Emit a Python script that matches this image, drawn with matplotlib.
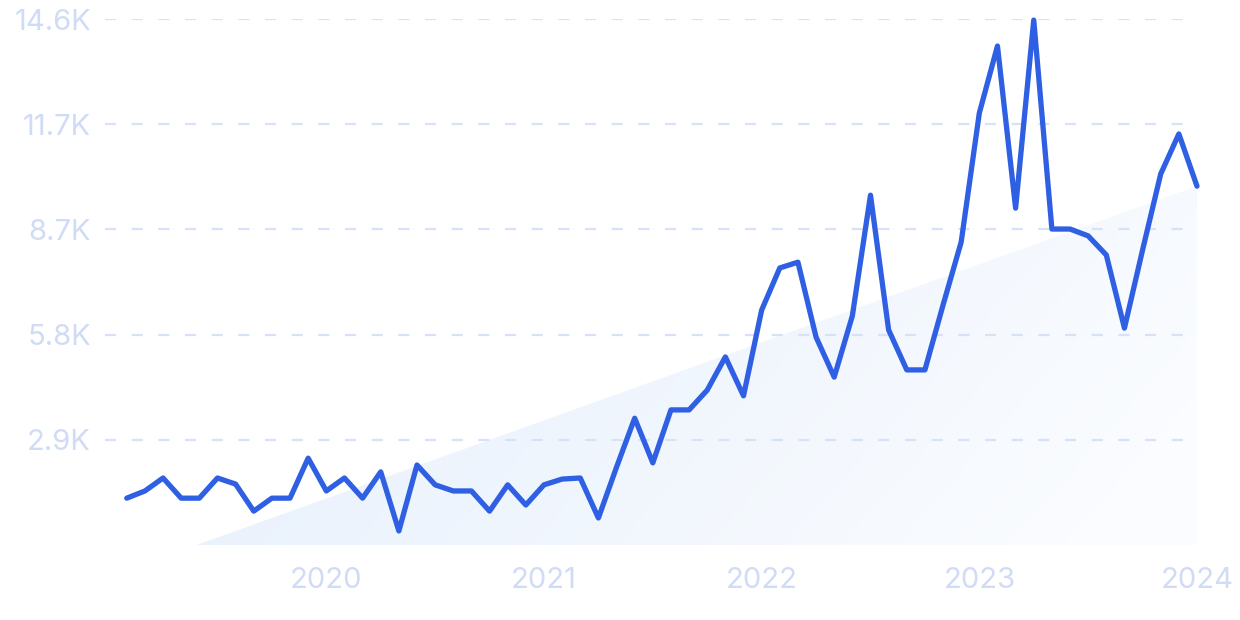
# Monthly search-interest style line chart with a trend wedge
import numpy as np
import matplotlib.pyplot as plt
from matplotlib.patches import Polygon
from matplotlib.colors import to_rgb

plt.rcParams['font.family'] = ['Inter', 'DejaVu Sans']

# Data: monthly values, Feb 2019 .. Jan 2024
values = [1300, 1500, 1860, 1300, 1300, 1860, 1690, 940, 1300, 1300, 2410,
          1500, 1860, 1300, 2030, 390, 2220, 1670, 1500, 1500, 940, 1670, 1110,
          1670, 1830, 1860, 750, 2160, 3520, 2280, 3750, 3750, 4300, 5220, 4140,
          6520, 7690, 7850, 5770, 4660, 6360, 9710, 5970, 4860, 4860, 6660, 8410,
          11990, 13850, 9350, 14570, 8770, 8770, 8580, 8050, 6020, 8190, 10300, 11410,
          9960]
year_ticks = [11, 23, 35, 47, 59]          # month index of each January
year_labels = ["2020", "2021", "2022", "2023", "2024"]
y_ticks = [2920, 5840, 8760, 11680, 14600]
y_labels = ["2.9K", "5.8K", "8.7K", "11.7K", "14.6K"]

# Trend wedge: starts at zero around month 3.85, ends at last value
trend_x = [3.85, 59]
trend_y = [0, 9960]

x = np.arange(len(values))
ymax = 14600
x0, x1 = -1.2, 59

fig = plt.figure(figsize=(12.4, 6.2), dpi=100)
ax = fig.add_axes([105 / 1240, 1 - 545 / 620, (1197 - 105) / 1240, (545 - 19) / 620])

# gradient fill for the trend wedge
c0 = np.array(to_rgb("#e2edfb"))
c1 = np.array(to_rgb("#fafcff"))
gx, gy = np.meshgrid(np.linspace(0, 1, 300), np.linspace(0, 1, 150))
t = np.clip(0.75 * gx + 0.35 * (1 - gy), 0, 1)
grad = c0 + (c1 - c0) * t[..., None]
img = ax.imshow(grad, extent=[trend_x[0], trend_x[1], 0, ymax], origin='lower',
                aspect='auto', zorder=1)
wedge = Polygon([(trend_x[0], trend_y[0]), (trend_x[1], trend_y[1]), (trend_x[1], 0)],
                closed=True, facecolor='none', edgecolor='none',
                transform=ax.transData)
ax.add_patch(wedge)
img.set_clip_path(wedge)

# grid
for yv in y_ticks:
    ax.axhline(yv, color="#d6e2f8", lw=1.6, dashes=(5, 7), zorder=2)

# main line
ax.plot(x, values, color="#2f5fe3", lw=3.8, solid_joinstyle='round',
        solid_capstyle='round', zorder=3, clip_on=False)

ax.set_xlim(x0, x1)
ax.set_ylim(0, ymax)
ax.set_yticks(y_ticks)
ax.set_yticklabels(y_labels)
ax.set_xticks(year_ticks)
ax.set_xticklabels(year_labels)
ax.tick_params(axis='both', length=0, colors="#d0dbf5", labelsize=21)
ax.tick_params(axis='y', pad=10)
ax.tick_params(axis='x', pad=16)
for s in ax.spines.values():
    s.set_visible(False)

fig.savefig("out.png", dpi=100)
